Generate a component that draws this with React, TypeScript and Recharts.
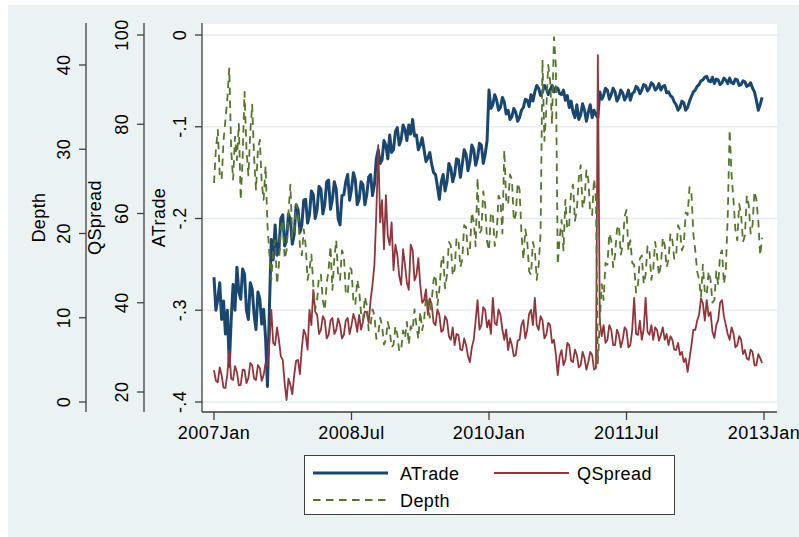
import React from 'react'
import { LineChart, Line, XAxis, YAxis, CartesianGrid, Legend } from 'recharts'

// quarter-month steps starting 2007Jan (t = months since 2007Jan)
const STEP = 0.25

const atrade = [
  -0.264, -0.300, -0.288, -0.270, -0.310, -0.290, -0.326, -0.300, -0.361, -0.310,
  -0.272, -0.300, -0.253, -0.280, -0.288, -0.255, -0.261, -0.300, -0.310, -0.270,
  -0.277, -0.305, -0.321, -0.280, -0.288, -0.315, -0.299, -0.330, -0.383, -0.300,
  -0.223, -0.245, -0.207, -0.240, -0.234, -0.200, -0.196, -0.230, -0.223, -0.195,
  -0.201, -0.228, -0.217, -0.185, -0.190, -0.215, -0.207, -0.180, -0.179, -0.205,
  -0.196, -0.170, -0.174, -0.200, -0.190, -0.165, -0.168, -0.195, -0.185, -0.160,
  -0.158, -0.190, -0.179, -0.160, -0.168, -0.200, -0.207, -0.175, -0.174, -0.160,
  -0.152, -0.180, -0.168, -0.150, -0.158, -0.185, -0.179, -0.160, -0.163, -0.185,
  -0.174, -0.155, -0.152, -0.175, -0.163, -0.135, -0.125, -0.140, -0.136, -0.115,
  -0.120, -0.135, -0.109, -0.128, -0.125, -0.105, -0.101, -0.120, -0.114, -0.098,
  -0.103, -0.115, -0.098, -0.108, -0.092, -0.110, -0.109, -0.125, -0.120, -0.112,
  -0.125, -0.138, -0.134, -0.128, -0.141, -0.150, -0.152, -0.165, -0.179, -0.160,
  -0.152, -0.170, -0.160, -0.140, -0.145, -0.160, -0.152, -0.135, -0.136, -0.155,
  -0.141, -0.125, -0.130, -0.148, -0.138, -0.120, -0.125, -0.142, -0.134, -0.118,
  -0.120, -0.140, -0.130, -0.115, -0.060, -0.080, -0.076, -0.065, -0.071, -0.082,
  -0.079, -0.068, -0.073, -0.086, -0.082, -0.092, -0.089, -0.080, -0.084, -0.094,
  -0.090, -0.082, -0.079, -0.070, -0.071, -0.078, -0.065, -0.072, -0.062, -0.055,
  -0.058, -0.066, -0.062, -0.055, -0.058, -0.065, -0.060, -0.055, -0.062, -0.057,
  -0.058, -0.064, -0.065, -0.060, -0.071, -0.066, -0.079, -0.072, -0.084, -0.090,
  -0.076, -0.092, -0.087, -0.075, -0.082, -0.094, -0.084, -0.076, -0.090, -0.082,
  -0.087, -0.090, -0.062, -0.070, -0.066, -0.058, -0.060, -0.070, -0.065, -0.058,
  -0.062, -0.072, -0.068, -0.060, -0.063, -0.071, -0.067, -0.060, -0.071, -0.064,
  -0.062, -0.056, -0.058, -0.064, -0.060, -0.054, -0.055, -0.061, -0.058, -0.052,
  -0.054, -0.060, -0.058, -0.053, -0.060, -0.056, -0.055, -0.063, -0.062, -0.066,
  -0.068, -0.073, -0.076, -0.082, -0.079, -0.072, -0.074, -0.082, -0.079, -0.072,
  -0.067, -0.062, -0.060, -0.056, -0.054, -0.050, -0.049, -0.046, -0.045, -0.050,
  -0.051, -0.046, -0.053, -0.048, -0.049, -0.054, -0.052, -0.047, -0.049, -0.053,
  -0.047, -0.052, -0.053, -0.048, -0.049, -0.055, -0.054, -0.050, -0.051, -0.056,
  -0.055, -0.052, -0.058, -0.062, -0.071, -0.082, -0.076, -0.068,
]

const qspread = [
  24.9, 22.5, 22.2, 25.5, 23.8, 21.0, 20.9, 24.0, 29.4, 23.0,
  22.7, 25.8, 24.5, 21.5, 21.6, 25.0, 24.9, 22.0, 23.1, 26.5,
  26.0, 23.0, 22.7, 26.0, 25.4, 22.5, 23.8, 26.5, 26.0, 31.0,
  38.4, 31.0, 30.5, 34.5, 31.7, 28.0, 27.2, 22.0, 18.2, 23.0,
  21.6, 19.5, 23.8, 27.0, 27.2, 24.0, 29.9, 34.0, 32.8, 29.5,
  38.4, 35.0, 42.9, 38.0, 37.3, 33.0, 33.9, 37.0, 36.1, 32.0,
  32.8, 36.0, 36.6, 33.0, 33.9, 36.5, 35.0, 32.0, 32.8, 36.0,
  36.6, 33.0, 35.0, 37.5, 36.1, 33.5, 37.3, 34.0, 35.7, 38.0,
  37.9, 35.5, 40.6, 44.0, 48.5, 60.0, 75.3, 58.0, 63.0, 52.0,
  64.1, 55.0, 52.9, 58.0, 47.3, 53.0, 50.7, 46.0, 44.0, 52.0,
  48.5, 44.5, 42.9, 53.0, 51.8, 45.0, 46.2, 50.0, 44.0, 40.0,
  40.6, 43.0, 37.3, 41.0, 39.5, 35.5, 35.0, 38.5, 37.3, 33.5,
  33.9, 37.0, 36.1, 32.5, 31.7, 34.5, 30.5, 33.0, 32.8, 29.5,
  29.4, 32.0, 30.5, 28.0, 26.7, 30.0, 31.7, 36.0, 40.6, 34.0,
  35.0, 39.0, 38.4, 34.5, 36.1, 33.0, 41.1, 35.5, 35.0, 38.5,
  37.3, 34.0, 31.7, 34.0, 29.4, 32.0, 30.5, 28.0, 28.3, 31.5,
  31.7, 35.0, 36.1, 32.0, 33.9, 37.5, 38.4, 35.0, 41.1, 35.0,
  33.9, 37.0, 36.1, 32.0, 32.8, 35.5, 35.0, 31.0, 31.7, 28.5,
  23.8, 28.0, 29.4, 26.0, 27.2, 31.0, 30.5, 27.0, 26.7, 29.5,
  28.3, 25.5, 26.0, 29.0, 27.6, 25.0, 26.7, 29.0, 28.3, 25.0,
  25.4, 95.5, 36.0, 32.5, 35.0, 31.0, 31.7, 35.0, 33.9, 30.5,
  30.5, 34.0, 32.8, 30.0, 31.7, 34.5, 33.9, 30.0, 30.5, 34.0,
  41.1, 33.0, 32.8, 36.0, 31.7, 34.0, 41.1, 33.5, 32.8, 35.0,
  31.7, 34.5, 33.9, 31.5, 32.8, 34.5, 31.7, 33.0, 30.5, 32.5,
  31.7, 29.5, 29.4, 31.0, 28.3, 29.0, 26.7, 27.5, 24.5, 27.5,
  30.5, 34.0, 33.9, 36.0, 37.3, 41.0, 39.9, 36.0, 40.6, 37.0,
  37.9, 33.5, 32.1, 35.0, 36.1, 40.0, 40.6, 37.0, 35.0, 33.0,
  31.7, 34.5, 33.2, 30.0, 30.5, 32.5, 31.7, 28.5, 29.4, 27.5,
  27.2, 29.5, 29.0, 26.0, 26.0, 28.5, 27.6, 26.5,
]

const depth = [
  26.0, 30.0, 32.3, 27.0, 26.4, 31.0, 33.5, 36.0, 39.6, 30.0,
  26.4, 31.5, 28.7, 33.0, 24.0, 29.0, 36.8, 30.0, 26.9, 32.0,
  35.3, 29.0, 25.2, 30.0, 31.1, 26.0, 24.0, 28.0, 21.0, 17.5,
  14.5, 18.0, 19.2, 14.0, 16.3, 20.5, 21.6, 17.0, 18.0, 22.5,
  25.8, 19.5, 20.4, 23.5, 22.8, 18.5, 17.4, 20.5, 18.6, 14.5,
  15.7, 17.5, 13.9, 11.0, 12.1, 15.0, 15.1, 12.0, 10.9, 14.0,
  15.7, 18.5, 13.3, 17.0, 19.2, 15.0, 14.5, 18.0, 17.4, 13.0,
  12.7, 16.0, 15.7, 12.0, 11.5, 14.5, 13.3, 10.5, 9.7, 12.5,
  11.5, 8.5, 9.1, 11.0, 10.3, 7.5, 8.0, 10.0, 9.1, 6.8,
  7.4, 9.5, 8.5, 6.5, 6.8, 9.0, 8.0, 6.0, 6.2, 8.5,
  7.6, 9.5, 6.8, 9.0, 8.5, 11.0, 9.1, 7.5, 10.7, 8.5,
  9.7, 12.5, 12.1, 10.0, 12.1, 14.5, 15.1, 11.5, 13.3, 16.5,
  17.4, 13.5, 15.1, 19.0, 18.6, 15.0, 15.7, 19.5, 19.2, 16.0,
  16.9, 21.0, 20.7, 17.5, 18.0, 22.5, 21.4, 18.5, 26.6, 20.0,
  20.4, 25.0, 23.4, 19.0, 18.0, 22.5, 22.2, 18.5, 19.8, 24.5,
  24.0, 20.0, 29.9, 24.0, 23.4, 27.0, 26.4, 21.5, 22.2, 26.0,
  25.2, 20.0, 16.9, 20.5, 19.2, 15.5, 15.1, 19.0, 18.0, 14.5,
  16.3, 20.0, 40.6, 31.0, 34.7, 40.0, 38.2, 33.0, 43.3, 40.0,
  16.3, 19.5, 21.6, 18.0, 24.0, 20.5, 21.0, 25.0, 25.8, 21.5,
  22.8, 26.5, 28.1, 23.0, 24.0, 27.5, 26.4, 22.5, 22.2, 26.5,
  24.0, 4.6, 9.5, 14.0, 12.1, 16.5, 16.3, 20.0, 19.2, 16.0,
  17.4, 20.5, 21.0, 17.5, 18.6, 22.0, 22.8, 18.0, 19.2, 16.5,
  16.3, 13.0, 13.9, 17.0, 17.4, 14.0, 15.1, 18.5, 18.0, 14.5,
  15.7, 19.0, 17.4, 15.0, 16.3, 19.5, 18.6, 16.0, 16.9, 20.0,
  19.2, 17.0, 17.4, 21.0, 20.4, 18.0, 18.6, 22.5, 22.2, 25.5,
  24.8, 20.0, 18.0, 15.5, 14.5, 12.5, 16.3, 13.0, 12.7, 15.5,
  14.5, 11.8, 12.1, 15.5, 13.9, 17.5, 18.0, 14.0, 15.7, 22.0,
  32.3, 27.0, 24.0, 20.5, 19.2, 23.5, 22.2, 19.0, 19.8, 24.5,
  23.4, 20.0, 21.0, 25.0, 24.0, 21.5, 17.4, 19.5,
]

const xTicks = [0, 18, 36, 54, 72]
const xTickLabels = ['2007Jan', '2008Jul', '2010Jan', '2011Jul', '2013Jan']
const aTicks = [-0.4, -0.3, -0.2, -0.1, 0]
const aTickLabels = ['-.4', '-.3', '-.2', '-.1', '0']
const qTicks = [20, 40, 60, 80, 100]
const qTickLabels = ['20', '40', '60', '80', '100']
const dTicks = [0, 10, 20, 30, 40]
const dTickLabels = ['0', '10', '20', '30', '40']

const data = atrade.map((a, i) => ({
  t: i * STEP,
  atrade: a,
  qspread: qspread[i],
  depth: depth[i],
}))

const series = [
  { key: 'atrade', name: 'ATrade', axis: 'a', color: '#1a476f', width: 3, dash: undefined as string | undefined },
  { key: 'qspread', name: 'QSpread', axis: 'b', color: '#90353b', width: 1.8, dash: undefined as string | undefined },
  { key: 'depth', name: 'Depth', axis: 'c', color: '#55752f', width: 1.8, dash: '7.5 5.5' },
]

const FONT = '"Liberation Sans", Arial, Helvetica, sans-serif'
const AXIS = '#404040'

function labelFor(v: number, ticks: number[], labels: string[]) {
  const idx = ticks.findIndex((t) => Math.abs(t - v) < 1e-9)
  return idx >= 0 ? labels[idx] : String(v)
}

function YTick(props: any) {
  const { x, y, payload, ticks, labels } = props
  return (
    <text
      x={x}
      y={y}
      transform={`rotate(-90 ${x} ${y})`}
      textAnchor="middle"
      fontSize={18}
      letterSpacing={0.4}
      fontFamily={FONT}
      fill="#000"
    >
      {labelFor(payload.value, ticks, labels)}
    </text>
  )
}

function XTick(props: any) {
  const { x, y, payload } = props
  return (
    <text x={x} y={y} dy={17} textAnchor="middle" fontSize={18} letterSpacing={0.5} fontFamily={FONT} fill="#000">
      {labelFor(payload.value, xTicks, xTickLabels)}
    </text>
  )
}

function AxisTitle(props: any) {
  const { viewBox, text, off } = props
  if (!viewBox) return null
  const tx = viewBox.x + viewBox.width - off
  const ty = viewBox.y + viewBox.height / 2
  return (
    <text
      x={tx}
      y={ty}
      transform={`rotate(-90 ${tx} ${ty})`}
      textAnchor="middle"
      fontSize={18}
      letterSpacing={0.4}
      fontFamily={FONT}
      fill="#000"
    >
      {text}
    </text>
  )
}

function LegendBox() {
  const spots = [
    { lx: 8, ty: 17 },
    { lx: 189, ty: 17 },
    { lx: 8, ty: 44 },
  ]
  return (
    <div style={{ width: 369, height: 58, background: '#fff', border: `1px solid ${AXIS}` }}>
      <svg width={369} height={58} style={{ display: 'block' }}>
        {series.map((s, i) => (
          <g key={s.key}>
            <line
              x1={spots[i].lx}
              x2={spots[i].lx + 75}
              y1={spots[i].ty}
              y2={spots[i].ty}
              stroke={s.color}
              strokeWidth={s.width}
              strokeDasharray={s.dash}
            />
            <text
              x={spots[i].lx + (i === 1 ? 83 : 87)}
              y={spots[i].ty + 6.5}
              fontSize={18}
              letterSpacing={0.4}
              fontFamily={FONT}
              fill="#000"
            >
              {s.name}
            </text>
          </g>
        ))}
      </svg>
    </div>
  )
}

export default function App() {
  return (
    <div style={{ position: 'absolute', left: 0, top: 0, width: 799, height: 537, background: '#fff', overflow: 'hidden' }}>
      <div style={{ position: 'absolute', left: 8, top: 5, right: 0, bottom: 0, background: '#eaf2f3' }} />
      <div style={{ position: 'absolute', left: 0, top: 0 }}>
        <LineChart width={799} height={537} data={data} margin={{ top: 23, right: 22, left: 0, bottom: 0 }}>
          <CartesianGrid yAxisId="a" vertical={false} stroke="#e6eef0" strokeWidth={1.5} fill="#fff" />
          <XAxis
            dataKey="t"
            type="number"
            domain={[-1.57, 73.7]}
            ticks={xTicks}
            allowDataOverflow
            height={125}
            tickSize={8}
            tickMargin={2}
            tick={<XTick />}
            axisLine={{ stroke: AXIS, strokeWidth: 1.3 }}
            tickLine={{ stroke: AXIS, strokeWidth: 1.3 }}
          />
          <YAxis
            yAxisId="a"
            type="number"
            domain={[-0.4109, 0.0131]}
            ticks={aTicks}
            allowDataOverflow
            width={58}
            tickSize={7}
            tickMargin={9}
            tick={<YTick ticks={aTicks} labels={aTickLabels} />}
            axisLine={{ stroke: AXIS, strokeWidth: 1.3 }}
            tickLine={{ stroke: AXIS, strokeWidth: 1.3 }}
            label={<AxisTitle text="ATrade" off={37} />}
          />
          <YAxis
            yAxisId="b"
            type="number"
            domain={[15.52, 102.69]}
            ticks={qTicks}
            allowDataOverflow
            width={58}
            tickSize={7}
            tickMargin={9}
            tick={<YTick ticks={qTicks} labels={qTickLabels} />}
            axisLine={{ stroke: AXIS, strokeWidth: 1.3 }}
            tickLine={{ stroke: AXIS, strokeWidth: 1.3 }}
            label={<AxisTitle text="QSpread" off={43} />}
          />
          <YAxis
            yAxisId="c"
            type="number"
            domain={[-1.187, 44.985]}
            ticks={dTicks}
            allowDataOverflow
            width={86}
            tickSize={7}
            tickMargin={9}
            tick={<YTick ticks={dTicks} labels={dTickLabels} />}
            axisLine={{ stroke: AXIS, strokeWidth: 1.3 }}
            tickLine={{ stroke: AXIS, strokeWidth: 1.3 }}
            label={<AxisTitle text="Depth" off={41.5} />}
          />
          <Legend
            layout="vertical"
            align="center"
            verticalAlign="middle"
            wrapperStyle={{ left: 304, top: 455, width: 371, height: 60 }}
            content={() => <LegendBox />}
          />
          {series.map((s) => (
            <Line
              key={s.key}
              yAxisId={s.axis}
              dataKey={s.key}
              name={s.name}
              type="linear"
              stroke={s.color}
              strokeWidth={s.width}
              strokeDasharray={s.dash}
              strokeLinejoin="round"
              dot={false}
              activeDot={false}
              isAnimationActive={false}
            />
          ))}
        </LineChart>
      </div>
    </div>
  )
}
